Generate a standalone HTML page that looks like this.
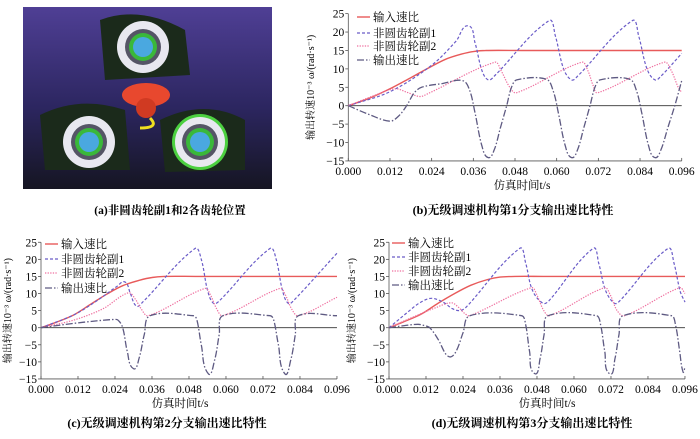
<!DOCTYPE html>
<html><head><meta charset="utf-8"><style>
body{margin:0;background:#fff;}
svg text{font-family:"Liberation Serif","Noto Serif CJK SC",serif;}
</style></head><body>
<svg id="s" width="700" height="434" xmlns="http://www.w3.org/2000/svg">
<defs><linearGradient id="bg" x1="0" y1="0" x2="0" y2="1"><stop offset="0" stop-color="#4f3f95"/><stop offset="0.55" stop-color="#2c2660"/><stop offset="1" stop-color="#151522"/></linearGradient></defs>
<rect x="23" y="7" width="249" height="182" fill="url(#bg)"/>
<g>
<path d="M100 20 Q140 5 185 30 L190 75 L105 80 Z" fill="#1b2a1b"/>
<path d="M40 115 Q80 95 125 110 L130 170 L45 170 Z" fill="#1b2a1b"/>
<path d="M160 120 Q205 98 245 120 L245 170 L165 172 Z" fill="#1b2a1b"/>
<ellipse cx="146" cy="95" rx="24" ry="12" fill="#e8482e"/>
<circle cx="146" cy="108" r="10" fill="#d03a22"/>
<path d="M150 118 Q160 128 140 128" stroke="#f0e020" stroke-width="3" fill="none"/>
<circle cx="143" cy="47" r="26" fill="#e8e8f0"/><circle cx="143" cy="47" r="18" fill="#556"/><circle cx="143" cy="47" r="14" fill="#3ab83a"/><circle cx="143" cy="47" r="10" fill="#4aa8e0"/>
<circle cx="89" cy="142" r="26" fill="#e8e8f0"/><circle cx="89" cy="142" r="18" fill="#556"/><circle cx="89" cy="142" r="14" fill="#3ab83a"/><circle cx="89" cy="142" r="10" fill="#4aa8e0"/>
<circle cx="200" cy="142" r="28" fill="#4cd040"/><circle cx="200" cy="142" r="25" fill="#e8e8f0"/><circle cx="200" cy="142" r="18" fill="#556"/><circle cx="200" cy="142" r="14" fill="#3ab83a"/><circle cx="200" cy="142" r="10" fill="#4aa8e0"/>
</g>
<text x="170" y="214" font-size="11.5" font-weight="bold" text-anchor="middle">(a)非圆齿轮副1和2各齿轮位置</text>
<g id="charts"></g>
</svg>
<script>
var NS="http://www.w3.org/2000/svg",G=document.getElementById("charts");
function el(t,a,txt){var e=document.createElementNS(NS,t);for(var k in a)e.setAttribute(k,a[k]);if(txt!=null)e.textContent=txt;G.appendChild(e);return e;}
function tang(p,i){var a=p[i-1]||p[i],b=p[i+1]||p[i];var dx=b[0]-a[0],dy=b[1]-a[1],L=Math.hypot(dx,dy)||1;return [dx/L,dy/L];}
function cr(pts,X,Y){var p=pts.map(function(q){return [X(q[0]),Y(q[1])];});var d="M"+p[0][0].toFixed(1)+" "+p[0][1].toFixed(1);
for(var i=0;i<p.length-1;i++){var p1=p[i],p2=p[i+1];var L=Math.hypot(p2[0]-p1[0],p2[1]-p1[1])/3;
var t1=tang(p,i),t2=tang(p,i+1);
var c1=[p1[0]+t1[0]*L,p1[1]+t1[1]*L],c2=[p2[0]-t2[0]*L,p2[1]-t2[1]*L];
d+=" C"+c1.map(v=>v.toFixed(1)).join(" ")+" "+c2.map(v=>v.toFixed(1)).join(" ")+" "+p2.map(v=>v.toFixed(1)).join(" ");}return d;}
var styles=[{s:"#e85a5a",w:1.4,da:""},{s:"#6a5cc8",w:1.2,da:"3,2"},{s:"#ef6f9f",w:1.2,da:"1.3,1.3"},{s:"#5e5a82",w:1.3,da:"7,2,1.5,2"}];
var names=["输入速比","非圆齿轮副1","非圆齿轮副2","输出速比"];
function chart(o){
var X=function(t){return o.x0+t*o.kx;},Y=function(v){return o.y0-v*o.ky;};
var bot=Y(-15),top=Y(25),right=X(96);
el("line",{x1:o.x0,y1:top,x2:o.x0,y2:bot,stroke:"#555","stroke-width":0.8});
el("line",{x1:o.x0,y1:bot,x2:right,y2:bot,stroke:"#555","stroke-width":0.8});
el("line",{x1:o.x0,y1:Y(0),x2:right,y2:Y(0),stroke:"#333","stroke-width":0.9});
for(var v=-15;v<=25;v+=5){el("line",{x1:o.x0-3,y1:Y(v),x2:o.x0,y2:Y(v),stroke:"#555","stroke-width":0.8});
el("text",{x:o.x0-4,y:Y(v)+4,"font-size":11.5,"text-anchor":"end"},v<0?"\u2212"+(-v):""+v);}
for(var t=0;t<=96;t+=12){el("line",{x1:X(t),y1:bot,x2:X(t),y2:bot-3,stroke:"#555","stroke-width":0.8});
el("text",{x:X(t),y:bot+14,"font-size":11.5,"text-anchor":"middle"},(t/1000).toFixed(3));}
for(var i=0;i<4;i++){var st=styles[i];el("path",{d:cr(o.d[i],X,Y),fill:"none",stroke:st.s,"stroke-width":st.w,"stroke-dasharray":st.da});
el("line",{x1:o.lx,y1:o.ly[i],x2:o.lx+13,y2:o.ly[i],stroke:st.s,"stroke-width":st.w,"stroke-dasharray":st.da});
el("text",{x:o.lx+16,y:o.ly[i]+4,"font-size":11.5},names[i]);}
el("text",{x:o.xl,y:bot+28,"font-size":11.5,"text-anchor":"middle"},"仿真时间t/s");
el("text",{x:o.cx,y:o.cy,"font-size":12,"font-weight":"bold","text-anchor":"middle"},o.cap);
el("text",{x:0,y:0,"font-size":10,"text-anchor":"middle",transform:"translate("+o.yx+","+((top+bot)/2)+") rotate(-90)"},"输出转速10⁻³ ω/(rad·s⁻¹)");
}
var inB=[[0,0],[6,2],[12,4.6],[18,7.6],[23,10.2],[28,12.6],[32.6,14],[36,14.7],[39.5,15],[50,15],[70,15],[96,15]];
chart({x0:348.3,kx:3.473,y0:105.7,ky:3.683,lx:357,ly:[17,33,46,60],xl:522,cx:513,cy:214,yx:314,cap:"(b)无级调速机构第1分支输出速比特性",
d:[inB,
[[0,0],[12,3.8],[24,11],[31,17.5],[34.5,21.7],[36.5,17],[38.5,9.5],[40.3,7],[42,8],[57.8,23.1],[59.6,19],[62,10],[64.3,7],[66,8],[81.8,23.1],[83.6,19],[86,10],[88.3,7],[90,8],[96,14.2]],
[[0,0],[7,2.6],[13.4,4.6],[17,3.6],[20.6,2.5],[23,3.3],[42.2,11.8],[44,9.5],[46.5,5],[48.4,3.5],[67.2,11.8],[69,9.5],[70.5,5.5],[71.8,3.5],[91,11.8],[93,9.5],[95,5],[96,3.6]],
[[0,0],[6,-2.4],[12,-4.2],[14.5,-2.8],[16.8,0],[19,3.5],[21.1,5],[27,6],[33,6.8],[35,4],[36.5,-2],[38.5,-11],[40.3,-14.1],[42,-12],[43.8,-6],[45.6,0],[47,5],[48.5,7],[57,7.2],[59,4],[60.5,-2],[62.5,-11],[64.3,-14.1],[66,-12],[67.8,-6],[69.6,0],[71,5],[72.5,7],[81,7.2],[83,4],[84.5,-2],[86.5,-11],[88.3,-14.1],[90,-12],[92,-6],[94,0],[96,6.8]]]});
var inC=[[0,0],[5,1.6],[10.5,3.7],[16,6.8],[21.3,9.8],[26.5,12.3],[32,13.9],[36,14.7],[40,15],[50,15],[70,15],[96,15]];
chart({x0:41,kx:3.083,y0:327.7,ky:3.417,lx:45,ly:[244,259,273,288],xl:180,cx:167,cy:427,yx:11,cap:"(c)无级调速机构第2分支输出速比特性",
d:[inC,
[[0,0],[10.5,3.7],[18,7.8],[24.5,12],[27.2,13.4],[29,10],[31,6.3],[33,7.5],[50,23.2],[52,20],[54,11],[56,7.1],[58,8],[74.3,23.2],[76.3,20],[78.3,11],[80.2,7.1],[82,8],[96,21.8]],
[[0,0],[10.5,2.2],[20,5.5],[28.3,10.2],[30.5,8.5],[32.5,5.5],[34.8,3.5],[53.2,11.5],[55,9.5],[57,5.5],[59,3.5],[77.5,11.5],[79.3,9.5],[81.3,5.5],[83.5,3.5],[96,8.9]],
[[0,0],[10,1.2],[18,2],[23.5,2.4],[25,2.2],[26.5,0],[28,-7],[30,-12],[31.8,-9],[33.5,-2],[35.4,3.5],[49.4,3.5],[50.5,2.5],[52,-5],[54.3,-13.5],[56.3,-9.5],[57.8,-2],[59,3.5],[74.3,3.5],[75.4,2.5],[77,-5],[79.1,-13.5],[81,-9.5],[82.5,-2],[83.5,3.5],[96,3.5]]]});
var inD=[[0,0],[5,1.8],[10.5,4],[16,7.2],[21.3,10],[26.5,12.4],[32,14.1],[36,14.8],[40.8,15],[50,15],[70,15],[96,15]];
chart({x0:389,kx:3.083,y0:327.7,ky:3.417,lx:392,ly:[243,257,271,285],xl:547,cx:532,cy:427,yx:355,cap:"(d)无级调速机构第3分支输出速比特性",
d:[inD,
[[0,0],[6,4.5],[10,7.3],[13.7,8.6],[17.5,7.5],[20.5,5.6],[22.9,5],[25,6],[42.4,23.2],[44.3,19],[46.5,11],[50,7.1],[52,8],[66.2,23.2],[68,19],[70.2,11],[73.2,7.1],[75,8],[90.5,23.2],[92.4,19],[94.5,10.5],[96,7.5]],
[[0,0],[8,3.2],[15,5.8],[20.2,7.3],[22.5,6],[24.5,4.2],[26.2,3.5],[46.2,11.7],[48,9.5],[50.2,5],[52.1,3.5],[69.9,11.7],[71.8,9.5],[74,5],[76.4,3.5],[94.3,11.7],[96,10]],
[[0,0],[5,0.6],[9.4,1],[11.5,0.6],[13.2,0],[16,-3.5],[18.5,-7.8],[20.2,-8.5],[22,-6.5],[24,-1.5],[26.2,3.5],[43,3.5],[44.3,1],[45.6,-7],[47.2,-13.4],[49,-9],[50.3,-2],[51.6,3.5],[67.3,3.5],[68.6,1],[70,-7],[71.6,-13.5],[73.3,-9],[74.6,-2],[75.9,3.5],[91.6,3.5],[92.9,1],[94.3,-7],[95.4,-13],[96,-11.5]]]});
</script>
</body></html>
